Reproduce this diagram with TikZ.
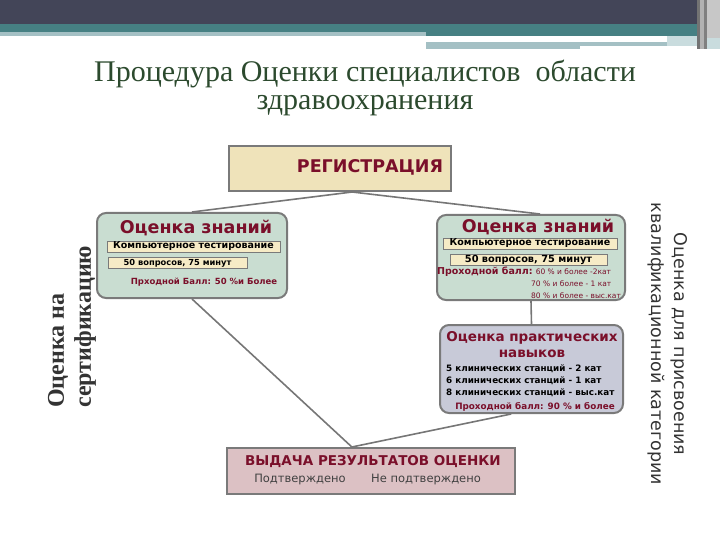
\documentclass[tikz,border=0pt]{standalone}
\usepackage{fontspec}
\setmainfont{Liberation Serif}
\setsansfont{DejaVu Sans}
\usetikzlibrary{positioning, calc}
\definecolor{hdrdark}{HTML}{434558}
\definecolor{hdrteal}{HTML}{468083}
\definecolor{hdrlight}{HTML}{A4C0C4}
\definecolor{hdrpale}{HTML}{C9DCDE}
\definecolor{titlegreen}{HTML}{2C4A2E}
\definecolor{darkred}{HTML}{7A0F2A}
\definecolor{boxline}{HTML}{7A7A7A}
\definecolor{linkgray}{HTML}{767676}
\definecolor{regfill}{HTML}{EFE3BA}
\definecolor{stripfill}{HTML}{F6EBC6}
\definecolor{knfill}{HTML}{C9DDD1}
\definecolor{prfill}{HTML}{C8CAD8}
\definecolor{resfill}{HTML}{DCC1C4}
\tikzset{
  boxreg/.style  = {draw=boxline, line width=2pt, fill=regfill,
                    minimum width=222pt, minimum height=45pt, inner sep=0pt},
  boxkn/.style   = {draw=boxline, line width=2pt, rounded corners=9pt, fill=knfill,
                    minimum width=190pt, minimum height=85pt, inner sep=0pt},
  boxpr/.style   = {draw=boxline, line width=2pt, rounded corners=9pt, fill=prfill,
                    minimum width=183pt, minimum height=88pt, inner sep=0pt},
  boxres/.style  = {draw=boxline, line width=2pt, fill=resfill,
                    minimum width=288pt, minimum height=46pt, inner sep=0pt},
  strip/.style   = {draw=boxline, line width=0.6pt, fill=stripfill, minimum height=11pt,
                    inner sep=0pt, font=\sffamily\bfseries\fontsize{9.5}{10}\selectfont},
  headred/.style = {text=darkred, inner sep=0pt, font=\sffamily\bfseries\fontsize{17.5}{19}\selectfont},
  passred/.style = {text=darkred, inner sep=0pt, font=\sffamily\bfseries\fontsize{8.5}{10}\selectfont},
  smallred/.style= {text=darkred, inner sep=0pt, font=\sffamily\fontsize{7.5}{9}\selectfont},
  station/.style = {inner sep=0pt, font=\sffamily\bfseries\fontsize{8.8}{10}\selectfont},
  verdict/.style = {text=black!75, inner sep=0pt, font=\sffamily\fontsize{11.5}{13}\selectfont},
  link/.style    = {draw=linkgray, line width=1.6pt},
}

\begin{document}
\begin{tikzpicture}[x=1pt, y=-1pt]
  \useasboundingbox (0,0) rectangle (720,540);

  % header strips
  \fill[hdrdark] (0,0) rectangle (720,24);
  \fill[hdrteal] (0,24) rectangle (697,32);
  \fill[hdrlight] (0,32) rectangle (426,36);
  \fill[hdrteal] (426,32) rectangle (697,36);
  \fill[hdrlight] (426,42) rectangle (580,49);
  \fill[hdrlight] (580,42) rectangle (667,46);
  \fill[hdrpale] (667,36) rectangle (697,46);
  \fill[black!55] (697,0) rectangle (700,49);
  \fill[black!30] (700,0) rectangle (704,49);
  \fill[black!50] (704,0) rectangle (707,49);
  \fill[black!22] (707,0) rectangle (720,38);
  \fill[hdrpale] (707,38) rectangle (720,49);

  \node[text=titlegreen, align=center, font=\fontsize{30}{28}\selectfont] (title)
    at (365,88) {Процедура Оценки специалистов\ \ области\\здравоохранения};

  \node[boxreg] (reg) at (340,168.5) {};
  \node[headred] (regtxt) at (370,167) {РЕГИСТРАЦИЯ};

  \node[boxkn] (knl) at (192,255.5) {};
  \node[headred] (knltitle) at (196,228) {Оценка знаний};
  \node[strip, minimum width=173pt] (knlpc) at (193.5,246.5) {Компьютерное тестирование};
  \node[strip, minimum width=139pt, font=\sffamily\bfseries\fontsize{8.3}{9}\selectfont]
    (knlq) at (177.5,263) {50 вопросов, 75 минут};
  \node[passred] (knlpass) at (204,282) {Прходной Балл: 50 \%и Более};

  \node[boxkn, minimum width=188pt] (knr) at (531,257.5) {};
  \node[headred] (knrtitle) at (538,227) {Оценка знаний};
  \node[strip, minimum width=174pt] (knrpc) at (530,243.5) {Компьютерное тестирование};
  \node[strip, minimum width=157pt, font=\sffamily\bfseries\fontsize{9.8}{11}\selectfont]
    (knrq) at (528.5,259.5) {50 вопросов, 75 минут};
  \node[smallred, anchor=west] (knrp1) at (437,272)
    {{\bfseries\fontsize{9.5}{11}\selectfont Проходной балл:} 60 \% и более -2кат};
  \node[smallred, anchor=west] (knrp2) at (531,284) {70 \% и более - 1 кат};
  \node[smallred, anchor=west] (knrp3) at (531,296) {80 \% и более - выс.кат};

  \node[boxpr] (pr) at (531.5,369) {};
  \node[headred, align=center, font=\sffamily\bfseries\fontsize{13.5}{16}\selectfont]
    (prtitle) at (532,345) {Оценка практических\\навыков};
  \node[station, anchor=west] (prs5) at (446,369) {5 клинических станций - 2 кат};
  \node[station, anchor=west] (prs6) at (446,381) {6 клинических станций - 1 кат};
  \node[station, anchor=west] (prs8) at (446,393) {8 клинических станций - выс.кат};
  \node[passred, font=\sffamily\bfseries\fontsize{8.8}{10}\selectfont]
    (prpass) at (535,407) {Проходной балл: 90 \% и более};

  \node[boxres] (res) at (371,471) {};
  \node[headred, font=\sffamily\bfseries\fontsize{13.5}{15}\selectfont]
    (restitle) at (373,462) {ВЫДАЧА РЕЗУЛЬТАТОВ ОЦЕНКИ};
  \node[verdict] (resyes) at (300,480) {Подтверждено};
  \node[verdict] (resno) at (426,480) {Не подтверждено};

  \node[rotate=90, anchor=west, align=left, text=black!80, inner sep=0pt,
        font=\bfseries\fontsize{24}{27}\selectfont] (certlbl) at (72,408)
    {Оценка на\\сертификацию};
  \node[rotate=-90, align=center, text=black!80, inner sep=0pt,
        font=\sffamily\fontsize{17.5}{23}\selectfont] (catlbl) at (668,344)
    {Оценка для присвоения\\квалификационной категории};

  % connectors
  \coordinate (regout) at ($(reg.south west)!0.554!(reg.south east)$);
  \coordinate (hub) at ($(res.north west)!0.434!(res.north east)$);
  \draw[link] (regout) -- (knl.north);
  \draw[link] (regout) -- ([xshift=9pt]knr.north);
  \draw[link] (knr.south) -- (pr.north);
  \draw[link] (knl.south) -- (hub);
  \draw[link] ($(pr.south west)!0.39!(pr.south east)$) -- (hub);
\end{tikzpicture}
\end{document}
